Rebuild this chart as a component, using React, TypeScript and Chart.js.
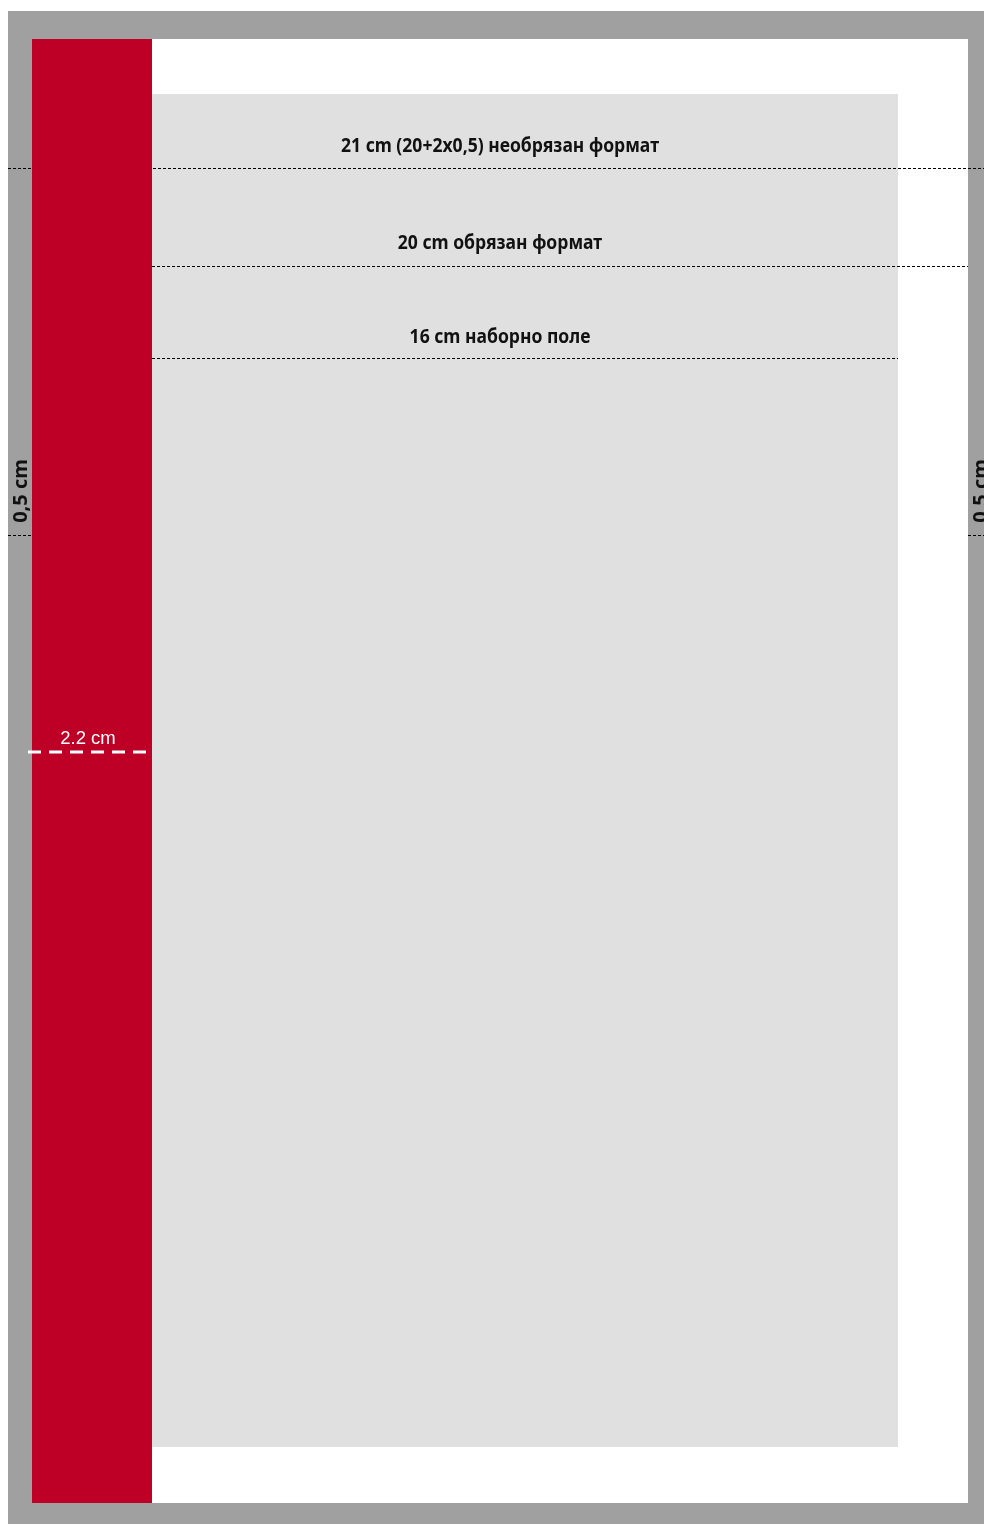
import { useEffect, useRef } from "react";
import { Chart, registerables } from "chart.js";

Chart.register(...registerables);

// Page-space extents (x1, y1, x2, y2) of each sheet zone
const bleedZone = [8, 11, 984, 1524];
const trimZone = [32, 39, 968, 1503];
const typeZone = [152, 94, 898, 1447];
const spineZone = [32, 39, 152, 1503];

// Horizontal guide lines
const guideLevels = [168.5, 266.5, 358.5];
const guideStarts = [8, 152, 152];
const guideEnds = [984, 968, 898];
const guideLabels = [
  "21 cm (20+2x0,5) необрязан формат",
  "20 cm обрязан формат",
  "16 cm наборно поле",
];
const guideLabelBaselines = [152, 249, 343];

// Short bleed marks at the sides
const bleedMarkLevel = 535.5;
const bleedMarkStarts = [8, 968];
const bleedMarkEnds = [32, 984];
const bleedLabel = "0,5 cm";
const bleedLabelCenters = [491, 491];
const bleedLabelBaselineX = [27, 987];

// Spine measure
const spineMeasureLevel = 752;
const spineMeasureStart = 28;
const spineMeasureEnd = 150;
const spineLabel = "2.2 cm";
const spineLabelBaseline = 744;

const rectPoints = (r: number[]) => [
  { x: r[0], y: r[1] },
  { x: r[2], y: r[1] },
  { x: r[2], y: r[3] },
  { x: r[0], y: r[3] },
  { x: r[0], y: r[1] },
];

const rectDataset = (r: number[], color: string, order: number) => ({
  type: "line" as const,
  data: rectPoints(r),
  showLine: true,
  fill: "shape",
  backgroundColor: color,
  borderColor: "transparent",
  borderWidth: 0,
  pointRadius: 0,
  tension: 0,
  order,
});

const lineDataset = (
  y: number,
  x1: number,
  x2: number,
  color: string,
  width: number,
  dash: number[],
  order: number
) => ({
  type: "line" as const,
  data: [
    { x: x1, y },
    { x: x2, y },
  ],
  showLine: true,
  fill: false,
  borderColor: color,
  borderWidth: width,
  borderDash: dash,
  borderCapStyle: "butt",
  pointRadius: 0,
  order,
});

const textPlugin = {
  id: "sheetText",
  afterDatasetsDraw(chart: any) {
    const { ctx, scales } = chart;
    const xs = scales.x;
    const ys = scales.y;
    ctx.save();
    ctx.fillStyle = "#111111";
    ctx.textAlign = "center";
    ctx.textBaseline = "alphabetic";
    ctx.font = 'bold 20px "Noto Sans"';
    const refW = ctx.measureText(guideLabels[0]).width;
    const sx = 318 / refW;
    const cx = xs.getPixelForValue((typeZone[0] + typeZone[2]) / 2 - 25);
    guideLabels.forEach((t, i) => {
      ctx.save();
      ctx.translate(cx, ys.getPixelForValue(guideLabelBaselines[i]));
      ctx.scale(sx, 1);
      ctx.fillText(t, 0, 0);
      ctx.restore();
    });
    ctx.font = 'bold 20px "Open Sans"';
    ctx.fillStyle = "#111111";
    bleedLabelCenters.forEach((c, i) => {
      ctx.save();
      ctx.translate(xs.getPixelForValue(bleedLabelBaselineX[i]), ys.getPixelForValue(c));
      ctx.rotate(-Math.PI / 2);
      ctx.textAlign = "center";
      ctx.fillText(bleedLabel, 0, 0);
      ctx.restore();
    });
    ctx.font = '18.5px "Liberation Sans"';
    ctx.fillStyle = "#ffffff";
    ctx.textAlign = "center";
    ctx.fillText(
      spineLabel,
      xs.getPixelForValue((spineZone[0] + spineZone[2]) / 2 - 4),
      ys.getPixelForValue(spineLabelBaseline)
    );
    ctx.restore();
  },
};

export default function App() {
  const ref = useRef<HTMLCanvasElement>(null);
  useEffect(() => {
    document.documentElement.style.overflow = "hidden";
    const canvas = ref.current!;
    const datasets: any[] = [
      rectDataset(bleedZone, "#a0a0a0", 100),
      rectDataset(trimZone, "#ffffff", 90),
      rectDataset(typeZone, "#e0e0e0", 80),
    ];
    datasets.push(
      lineDataset(guideLevels[0], guideStarts[0], guideEnds[0], "#000000", 1, [3, 2], 70)
    );
    datasets.push(rectDataset(spineZone, "#be0026", 60));
    guideLevels.slice(1).forEach((y, k) => {
      const i = k + 1;
      datasets.push(lineDataset(y, guideStarts[i], guideEnds[i], "#000000", 1, [3, 2], 50));
    });
    bleedMarkStarts.forEach((s, i) => {
      datasets.push(lineDataset(bleedMarkLevel, s, bleedMarkEnds[i], "#000000", 1, [3, 2], 50));
    });
    datasets.push(
      lineDataset(spineMeasureLevel, spineMeasureStart, spineMeasureEnd, "#ffffff", 3, [13, 8], 40)
    );

    const chart = new Chart(canvas, {
      type: "scatter",
      data: { datasets },
      options: {
        animation: false,
        responsive: false,
        devicePixelRatio: 1,
        events: [],
        layout: { padding: 0 },
        plugins: { legend: { display: false }, tooltip: { enabled: false } },
        scales: {
          x: { type: "linear", min: 0, max: 984, display: false },
          y: { type: "linear", min: 0, max: 1524, reverse: true, display: false },
        },
      },
      plugins: [textPlugin],
    } as any);
    return () => chart.destroy();
  }, []);
  return (
    <div style={{ position: "fixed", left: 0, top: 0, width: 984, height: 1524 }}>
      <canvas ref={ref} width={984} height={1524} style={{ display: "block" }} />
    </div>
  );
}
